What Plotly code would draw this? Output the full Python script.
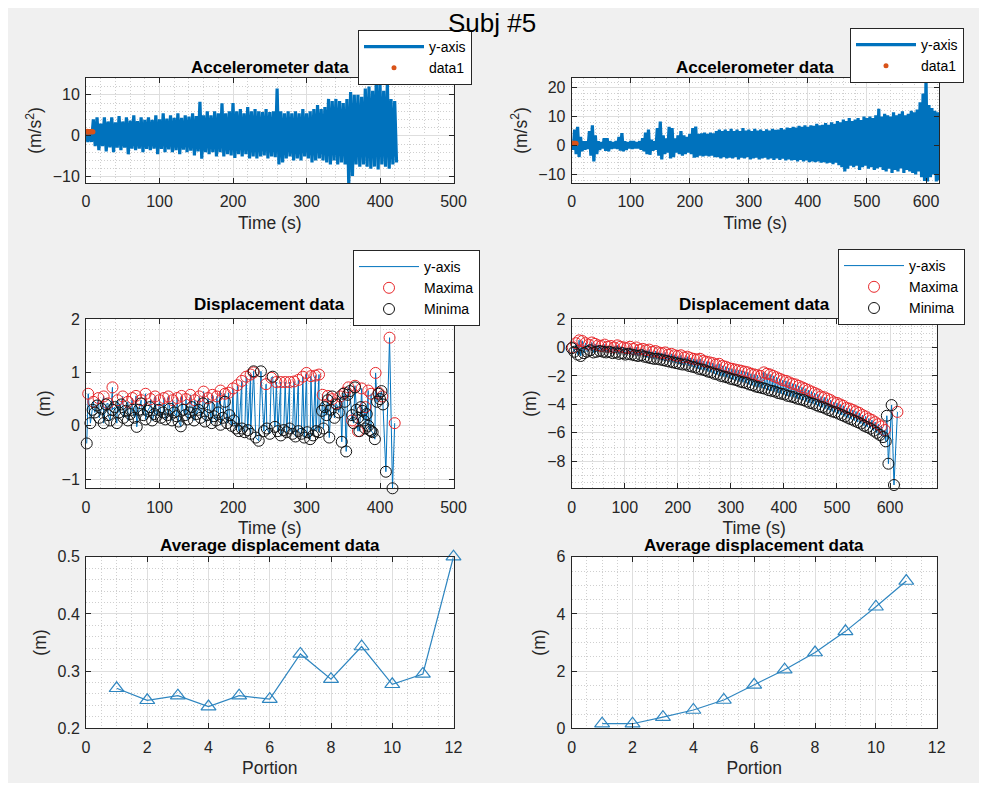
import plotly.graph_objects as go

FONT = "Liberation Sans, Arial, Helvetica, sans-serif"
# the page body keeps its default 8 px margin, so the figure is 16 px smaller than the window
OFF = 8
W, H = 987 - 2 * OFF, 791 - 2 * OFF

# ---------------- data ----------------
# Accelerometer (left run): envelope read per 5 s bin
accL_t = [0, 5, 10, 15, 20, 25, 30, 35, 40, 45,
          50, 55, 60, 65, 70, 75, 80, 85, 90, 95,
          100, 105, 110, 115, 120, 125, 130, 135, 140, 145,
          150, 155, 160, 165, 170, 175, 180, 185, 190, 195,
          200, 205, 210, 215, 220, 225, 230, 235, 240, 245,
          250, 255, 260, 265, 270, 275, 280, 285, 290, 295,
          300, 305, 310, 315, 320, 325, 330, 335, 340, 345,
          350, 355, 360, 365, 370, 375, 380, 385, 390, 395,
          400, 405, 410, 415, 420]
accL_hi = [1.5, 1.5, 4.0, 4.5, 3.0, 4.5, 3.5, 4.5, 3.3, 4.8,
           3.5, 4.5, 3.7, 5.0, 3.6, 4.5, 3.9, 4.5, 3.9, 5.0,
           4.0, 5.5, 4.2, 5.0, 4.4, 5.5, 4.4, 5.0, 4.7, 5.5,
           4.8, 8.3, 5.0, 6.0, 5.0, 6.0, 5.5, 7.9, 5.5, 6.0,
           8.0, 6.0, 6.5, 5.5, 7.0, 6.0, 6.5, 6.0, 5.8, 6.5,
           5.8, 6.0, 11.5, 6.0, 5.5, 6.0, 5.5, 6.0, 5.5, 6.5,
           5.5, 6.0, 6.5, 7.5, 6.5, 7.0, 9.0, 8.5, 9.0, 8.5,
           8.0, 9.0, 10.7, 10.0, 10.0, 9.5, 11.5, 12.0, 11.0, 14.2,
           12.9, 11.0, 12.9, 9.0, 8.5]
accL_lo = [-1.5, -1.5, -2.5, -3.5, -2.5, -3.8, -2.8, -4.0, -2.9, -3.5,
           -2.9, -4.5, -3.1, -3.5, -3.1, -4.0, -3.2, -3.5, -3.1, -4.5,
           -3.2, -4.0, -3.3, -4.0, -3.5, -4.5, -3.4, -4.0, -3.6, -4.8,
           -3.8, -5.6, -4.0, -4.5, -4.0, -5.0, -4.0, -5.0, -4.5, -4.8,
           -5.4, -4.5, -5.0, -4.5, -5.5, -5.0, -5.5, -5.0, -4.8, -5.5,
           -5.0, -5.2, -7.0, -6.5, -5.5, -5.0, -6.0, -5.5, -6.0, -5.0,
           -5.5, -6.5, -6.0, -5.5, -6.0, -6.5, -7.0, -6.0, -7.0, -6.5,
           -7.0, -11.9, -9.8, -7.0, -7.5, -7.0, -7.5, -8.0, -7.5, -8.2,
           -7.0, -7.5, -8.0, -7.0, -6.5]
dotL_t = [0.5, 1.5, 2.5, 3.5, 4.5, 5.5, 6.5, 7.5, 8.5, 9.5]
dotL_v = [1.0, 1.1, 0.9, 1.0, 1.05, 0.95, 1.0, 1.1, 0.95, 1.0]

# Accelerometer (right run)
accR_t = [0, 5, 10, 15, 20, 25, 30, 35, 40, 45,
          50, 55, 60, 65, 70, 75, 80, 85, 90, 95,
          100, 105, 110, 115, 120, 125, 130, 135, 140, 145,
          150, 155, 160, 165, 170, 175, 180, 185, 190, 195,
          200, 205, 210, 215, 220, 225, 230, 235, 240, 245,
          250, 255, 260, 265, 270, 275, 280, 285, 290, 295,
          300, 305, 310, 315, 320, 325, 330, 335, 340, 345,
          350, 355, 360, 365, 370, 375, 380, 385, 390, 395,
          400, 405, 410, 415, 420, 425, 430, 435, 440, 445,
          450, 455, 460, 465, 470, 475, 480, 485, 490, 495,
          500, 505, 510, 515, 520, 525, 530, 535, 540, 545,
          550, 555, 560, 565, 570, 575, 580, 585, 590, 595,
          600, 605, 610, 615, 620]
accR_hi = [1.5, 5.5, 6.5, 3.0, 1.5, 1.5, 5.0, 7.0, 3.5, 1.5,
           1.2, 2.5, 2.5, 1.5, 1.2, 1.5, 3.0, 4.3, 1.5, 1.2,
           1.5, 1.5, 1.2, 1.5, 2.5, 4.5, 5.5, 2.0, 1.5, 6.0,
           8.3, 3.5, 2.5, 6.5, 6.0, 2.5, 3.5, 5.0, 3.5, 3.0,
           4.0, 6.0, 6.6, 4.0, 4.2, 4.5, 4.0, 4.5, 4.2, 5.0,
           5.5, 5.0, 5.5, 5.0, 5.8, 5.0, 5.5, 5.0, 6.0, 5.2,
           5.5, 5.0, 5.8, 5.2, 5.5, 5.0, 5.6, 5.2, 5.8, 5.4,
           5.5, 6.0, 5.5, 6.2, 6.0, 6.5, 6.2, 6.8, 6.5, 7.0,
           6.5, 7.0, 6.8, 7.5, 7.0, 7.2, 7.8, 7.2, 8.0, 7.5,
           8.5, 8.0, 9.0, 8.5, 9.5, 8.5, 9.0, 9.5, 8.8, 10.0,
           9.5, 10.0, 9.5, 10.5, 12.7, 10.0, 11.0, 10.5, 10.0, 11.5,
           10.5, 11.0, 11.9, 10.5, 11.0, 12.0, 11.5, 12.5, 15.0, 18.0,
           23.4, 14.0, 13.0, 12.0, 11.5]
accR_lo = [-1.5, -3.0, -4.0, -2.0, -1.5, -1.2, -3.5, -5.5, -3.0, -1.5,
           -1.0, -1.8, -2.0, -1.2, -1.0, -1.2, -1.8, -2.0, -1.5, -1.0,
           -1.2, -1.0, -1.0, -1.5, -2.0, -3.0, -3.2, -1.8, -1.5, -3.5,
           -4.8, -3.0, -2.5, -4.5, -4.0, -2.5, -3.0, -3.5, -3.0, -2.5,
           -3.0, -4.2, -4.0, -3.5, -3.8, -3.5, -3.8, -3.5, -4.0, -4.0,
           -4.5, -4.0, -4.5, -4.2, -4.5, -4.0, -4.8, -4.2, -4.5, -4.0,
           -4.8, -4.5, -4.2, -4.8, -4.5, -4.2, -4.8, -4.5, -5.0, -4.5,
           -5.0, -4.6, -5.2, -4.8, -5.2, -5.0, -5.5, -5.0, -5.5, -5.2,
           -5.8, -5.5, -5.8, -5.5, -6.0, -5.8, -6.2, -6.0, -6.5, -6.0,
           -6.8, -7.5, -9.0, -8.0, -7.0, -7.5, -7.0, -8.5, -7.5, -7.0,
           -8.0, -7.5, -8.5, -8.0, -7.5, -8.5, -9.0, -8.0, -9.5, -8.5,
           -9.0, -8.0, -9.5, -8.5, -9.0, -9.5, -10.0, -9.0, -11.0, -12.3,
           -12.5, -11.0, -10.0, -12.5, -12.0]
dotR_t = [0.5, 1.5, 2.5, 3.5, 4.5, 5.5, 6.5, 7.5]
dotR_v = [0.8, 0.7, 0.75, 0.8, 0.7, 0.75, 0.8, 0.7]

# Displacement (left) extrema
maxL_t = [3, 10, 17, 24, 30, 36, 43, 50, 57, 63,
          68, 75, 81, 88, 94, 100, 106, 112, 118, 124,
          130, 136, 142, 148, 154, 160, 166, 172, 178, 183,
          189, 194, 200, 206, 212, 218, 224, 228, 245, 252,
          259, 265, 271, 277, 283, 289, 295, 300, 306, 312,
          317, 322, 329, 335, 340, 346, 352, 357, 362, 366,
          370, 375, 380, 384, 388, 394, 398, 403, 413, 420]
maxL_v = [0.60, 0.45, 0.52, 0.55, 0.42, 0.72, 0.48, 0.55, 0.45, 0.52,
          0.56, 0.48, 0.60, 0.50, 0.55, 0.48, 0.52, 0.55, 0.48, 0.52,
          0.56, 0.50, 0.58, 0.48, 0.55, 0.64, 0.52, 0.58, 0.55, 0.66,
          0.60, 0.62, 0.70, 0.76, 0.84, 0.92, 0.96, 1.00, 0.78, 0.90,
          0.82, 0.82, 0.82, 0.82, 0.83, 0.86, 0.92, 0.99, 0.93, 0.94,
          0.96, 0.58, 0.56, 0.50, 0.42, 0.55, 0.62, 0.72, 0.10, 0.75,
          -0.10, 0.70, 0.35, 0.66, 0.60, 0.99, 0.62, 0.55, 1.65, 0.05]
minL_t = [1, 6, 9, 12, 15, 18, 21, 24, 27, 30,
          33, 36, 39, 42, 45, 48, 51, 54, 57, 60,
          63, 66, 69, 72, 75, 78, 81, 84, 87, 90,
          93, 96, 99, 102, 105, 108, 111, 114, 117, 120,
          123, 126, 129, 132, 135, 138, 141, 144, 147, 150,
          153, 156, 159, 162, 165, 168, 171, 174, 177, 180,
          183, 186, 189, 192, 195, 198, 201, 204, 208, 212,
          216, 220, 224, 228, 231, 235, 238, 242, 246, 250,
          254, 257, 261, 265, 269, 273, 277, 281, 285, 289,
          293, 297, 301, 305, 309, 313, 317, 321, 323, 325,
          327, 329, 331, 333, 335, 338, 341, 344, 348, 350,
          352, 354, 356, 359, 362, 364, 366, 368, 370, 372,
          374, 376, 378, 380, 382, 384, 386, 388, 390, 393,
          396, 398, 400, 402, 404, 408, 417]
minL_v = [-0.33, 0.05, 0.30, 0.25, 0.38, 0.15, 0.32, 0.05, 0.40, 0.20,
          0.10, 0.30, 0.35, 0.05, 0.25, 0.40, 0.15, 0.28, 0.10, 0.22,
          0.30, 0.15, -0.02, 0.30, 0.42, 0.20, 0.12, 0.28, 0.35, 0.10,
          0.22, 0.18, 0.30, 0.15, 0.25, 0.12, 0.20, 0.32, 0.10, 0.25,
          0.18, 0.08, -0.01, 0.30, 0.20, 0.12, 0.25, 0.35, 0.10, 0.22,
          0.30, 0.15, 0.42, 0.08, 0.20, 0.35, 0.05, 0.18, 0.10, 0.25,
          0.02, 0.15, 0.45, 0.05, 0.20, 0.00, 0.10, -0.05, -0.10, -0.05,
          -0.12, -0.08, -0.15, 1.02, -0.22, -0.28, 1.02, -0.10, -0.05, -0.15,
          0.92, -0.02, -0.10, -0.18, -0.08, -0.12, -0.05, -0.15, -0.20, -0.10,
          -0.15, -0.22, -0.12, -0.25, -0.18, -0.10, -0.12, 0.28, -0.05, 0.35,
          0.20, 0.48, -0.22, 0.30, 0.55, 0.15, 0.40, 0.25, -0.30, 0.60,
          0.45, -0.48, 0.58, 0.65, 0.20, 0.05, 0.72, 0.30, 0.15, -0.10,
          0.35, 0.28, 0.10, -0.05, 0.22, 0.00, -0.08, -0.10, -0.12, -0.25,
          0.45, 0.60, 0.50, 0.65, 0.40, -0.86, -1.17]

# Displacement (right) extrema
maxR_t = [2, 8, 14, 20, 26, 32, 38, 44, 50, 56,
          62, 68, 74, 80, 86, 92, 98, 104, 110, 116,
          122, 128, 134, 140, 146, 152, 158, 164, 170, 176,
          182, 188, 194, 200, 206, 212, 218, 224, 230, 236,
          242, 248, 254, 260, 266, 272, 278, 284, 290, 296,
          302, 308, 314, 320, 326, 332, 338, 344, 350, 356,
          362, 368, 374, 380, 386, 392, 398, 404, 410, 416,
          422, 428, 434, 440, 446, 452, 458, 464, 470, 476,
          482, 488, 494, 500, 506, 512, 518, 524, 530, 536,
          542, 548, 554, 560, 566, 572, 578, 584, 590, 614]
maxR_v = [0.0, 0.3, 0.5, 0.45, 0.3, 0.2, 0.35, 0.25, 0.15, 0.1,
          0.2, 0.05, 0.1, 0.0, 0.15, 0.05, 0.0, -0.05, 0.05, -0.1,
          0.0, -0.15, -0.1, -0.2, -0.15, -0.3, -0.25, -0.35, -0.4, -0.35,
          -0.5, -0.45, -0.55, -0.6, -0.55, -0.7, -0.65, -0.75, -0.8, -0.85,
          -0.8, -0.95, -1.0, -1.05, -1.1, -1.2, -1.15, -1.3, -1.35, -1.45,
          -1.5, -1.55, -1.6, -1.65, -1.7, -1.75, -1.85, -1.9, -1.95, -2.0,
          -1.75, -1.85, -1.9, -2.0, -2.1, -2.2, -2.3, -2.35, -2.45, -2.55,
          -2.6, -2.7, -2.8, -2.9, -3.0, -3.1, -3.2, -3.3, -3.45, -3.5,
          -3.6, -3.7, -3.85, -3.9, -4.0, -4.1, -4.25, -4.3, -4.4, -4.5,
          -4.6, -4.75, -4.85, -5.0, -5.1, -5.25, -5.4, -5.55, -5.8, -4.53]
minR_t = [0, 5, 11, 17, 23, 29, 35, 41, 47, 53,
          59, 65, 71, 77, 83, 89, 95, 101, 107, 113,
          119, 125, 131, 137, 143, 149, 155, 161, 167, 173,
          179, 185, 191, 197, 203, 209, 215, 221, 227, 233,
          239, 245, 251, 257, 263, 269, 275, 281, 287, 293,
          299, 305, 311, 317, 323, 329, 335, 341, 347, 353,
          359, 365, 371, 377, 383, 389, 395, 401, 407, 413,
          419, 425, 431, 437, 443, 449, 455, 461, 467, 473,
          479, 485, 491, 497, 503, 509, 515, 521, 527, 533,
          539, 545, 551, 557, 563, 569, 575, 581, 587, 592,
          594, 597, 603, 607.5]
minR_v = [-0.05, -0.3, -0.5, -0.6, -0.4, -0.3, -0.2, -0.35, -0.3, -0.25,
          -0.3, -0.35, -0.3, -0.4, -0.35, -0.45, -0.4, -0.5, -0.45, -0.5,
          -0.55, -0.6, -0.55, -0.65, -0.7, -0.75, -0.8, -0.8, -0.85, -0.9,
          -0.95, -1.0, -1.05, -1.1, -1.15, -1.2, -1.2, -1.3, -1.35, -1.4,
          -1.5, -1.55, -1.6, -1.7, -1.75, -1.85, -1.9, -2.0, -2.05, -2.1,
          -2.2, -2.25, -2.3, -2.4, -2.45, -2.5, -2.6, -2.65, -2.75, -2.8,
          -2.85, -2.9, -3.0, -3.05, -3.1, -3.2, -3.25, -3.3, -3.4, -3.45,
          -3.5, -3.6, -3.65, -3.7, -3.8, -3.9, -3.95, -4.05, -4.15, -4.2,
          -4.3, -4.4, -4.5, -4.55, -4.65, -4.75, -4.85, -4.95, -5.05, -5.15,
          -5.25, -5.35, -5.5, -5.6, -5.7, -5.85, -6.0, -6.15, -6.3, -6.6,
          -4.8, -8.17, -4.05, -9.67]

# Average displacement per portion
portL = [1, 2, 3, 4, 5, 6, 7, 8, 9, 10, 11, 12]
avgL = [0.270, 0.249, 0.257, 0.238, 0.257, 0.251, 0.330, 0.286, 0.343, 0.277, 0.295, 0.500]
portR = [1, 2, 3, 4, 5, 6, 7, 8, 9, 10, 11]
avgR = [0.16, 0.16, 0.39, 0.64, 0.99, 1.52, 2.05, 2.65, 3.39, 4.25, 5.15]

# ---------------- helpers ----------------
BLUE = "#0072BD"
ORANGE = "#D95319"
TXT = "#262626"


def zigzag(t, hi, lo, half):
    xs, ys = [], []
    for a, h, l in zip(t, hi, lo):
        xs += [a, a + half]
        ys += [h, l]
    return xs, ys


def merged(t1, v1, t2, v2):
    pts = sorted(list(zip(t1, v1)) + list(zip(t2, v2)), key=lambda p: p[0])
    return [p[0] for p in pts], [p[1] for p in pts]


def fx(px):  # window pixel -> paper fraction
    return (px - OFF) / W


def fy(py):
    return 1 - (py - OFF) / H


fig = go.Figure()

# --- top-left ---
x, y = zigzag(accL_t, accL_hi, accL_lo, 2.5)
fig.add_trace(go.Scatter(x=x, y=y, mode="lines", name="y-axis",
                         line=dict(color=BLUE, width=3.2), xaxis="x", yaxis="y", legend="legend"))
fig.add_trace(go.Scatter(x=dotL_t, y=dotL_v, mode="markers", name="data1",
                         marker=dict(color=ORANGE, size=5), xaxis="x", yaxis="y", legend="legend"))
# --- top-right ---
x, y = zigzag(accR_t, accR_hi, accR_lo, 2.5)
fig.add_trace(go.Scatter(x=x, y=y, mode="lines", name="y-axis",
                         line=dict(color=BLUE, width=3.2), xaxis="x2", yaxis="y2", legend="legend2"))
fig.add_trace(go.Scatter(x=dotR_t, y=dotR_v, mode="markers", name="data1",
                         marker=dict(color=ORANGE, size=5), xaxis="x2", yaxis="y2", legend="legend2"))
# --- middle-left ---
x, y = merged(maxL_t, maxL_v, minL_t, minL_v)
fig.add_trace(go.Scatter(x=x, y=y, mode="lines", name="y-axis",
                         line=dict(color=BLUE, width=1), xaxis="x3", yaxis="y3", legend="legend3"))
fig.add_trace(go.Scatter(x=maxL_t, y=maxL_v, mode="markers", name="Maxima", cliponaxis=False,
                         marker=dict(symbol="circle-open", size=11, color="#e8282b", line=dict(width=1)),
                         xaxis="x3", yaxis="y3", legend="legend3"))
fig.add_trace(go.Scatter(x=minL_t, y=minL_v, mode="markers", name="Minima", cliponaxis=False,
                         marker=dict(symbol="circle-open", size=11, color="#111111", line=dict(width=1)),
                         xaxis="x3", yaxis="y3", legend="legend3"))
# --- middle-right ---
x, y = merged(maxR_t, maxR_v, minR_t, minR_v)
fig.add_trace(go.Scatter(x=x, y=y, mode="lines", name="y-axis",
                         line=dict(color=BLUE, width=1), xaxis="x4", yaxis="y4", legend="legend4"))
fig.add_trace(go.Scatter(x=maxR_t, y=maxR_v, mode="markers", name="Maxima", cliponaxis=False,
                         marker=dict(symbol="circle-open", size=11, color="#e8282b", line=dict(width=1)),
                         xaxis="x4", yaxis="y4", legend="legend4"))
fig.add_trace(go.Scatter(x=minR_t, y=minR_v, mode="markers", name="Minima", cliponaxis=False,
                         marker=dict(symbol="circle-open", size=11, color="#111111", line=dict(width=1)),
                         xaxis="x4", yaxis="y4", legend="legend4"))
# --- bottom ---
fig.add_trace(go.Scatter(x=portL, y=avgL, mode="lines+markers", showlegend=False, cliponaxis=False,
                         line=dict(color="#2f86c0", width=1.2),
                         marker=dict(symbol="triangle-up-open", size=13, color="#2f86c0", line=dict(width=1.2)),
                         xaxis="x5", yaxis="y5"))
fig.add_trace(go.Scatter(x=portR, y=avgR, mode="lines+markers", showlegend=False, cliponaxis=False,
                         line=dict(color="#2f86c0", width=1.2),
                         marker=dict(symbol="triangle-up-open", size=13, color="#2f86c0", line=dict(width=1.2)),
                         xaxis="x6", yaxis="y6"))


def axis(domain, rng, dtick, minor, anchor, title, is_x):
    return dict(domain=domain, range=rng, dtick=dtick, tick0=0, anchor=anchor,
                automargin=False,
                showline=True, linecolor=TXT, linewidth=1, mirror="ticks",
                ticks="inside", ticklen=5, tickcolor=TXT, tickwidth=1,
                ticklabelstandoff=4 if is_x else 2,
                showgrid=True, gridcolor="#dedede", gridwidth=1, zeroline=False,
                minor=dict(dtick=minor, tick0=0, showgrid=True, gridcolor="#cfcfcf",
                           griddash="1px,2px", ticks=""),
                tickfont=dict(size=16, color=TXT, family=FONT),
                title=dict(text=title, font=dict(size=17.5, color=TXT, family=FONT),
                           standoff=7 if is_x else 6),
                fixedrange=True)


XL = [fx(86), fx(453.5)]
XR = [fx(571.7), fx(939)]
XR2 = [fx(571.7), fx(936.7)]
Y1 = [fy(183), fy(78)]
Y2 = [fy(488.3), fy(319)]
Y3 = [fy(728.3), fy(556.7)]

lay = dict(
    xaxis=axis(XL, [0, 500], 100, 20, "y", "Time (s)", True),
    yaxis=axis(Y1, [-11.5, 14.1], 10, 2, "x", "(m/s<sup>2</sup>)", False),
    xaxis2=axis(XR, [0, 622], 100, 20, "y2", "Time (s)", True),
    yaxis2=axis(Y1, [-13, 23.4], 10, 2, "x2", "(m/s<sup>2</sup>)", False),
    xaxis3=axis(XL, [0, 500], 100, 20, "y3", "Time (s)", True),
    yaxis3=axis(Y2, [-1.17, 2], 1, 0.2, "x3", "(m)", False),
    xaxis4=axis(XR2, [0, 688], 100, 20, "y4", "Time (s)", True),
    yaxis4=axis(Y2, [-9.9, 2], 2, 0.5, "x4", "(m)", False),
    xaxis5=axis(XL, [0, 12], 2, 0.5, "y5", "Portion", True),
    yaxis5=axis(Y3, [0.2, 0.5], 0.1, 0.02, "x5", "(m)", False),
    xaxis6=axis(XR2, [0, 12], 2, 0.5, "y6", "Portion", True),
    yaxis6=axis(Y3, [0, 6], 2, 0.5, "x6", "(m)", False),
)
fig.update_layout(**lay)

leg_common = dict(xanchor="left", yanchor="top", bgcolor="white", bordercolor=TXT,
                  borderwidth=1, font=dict(size=14, family=FONT, color="#000"),
                  itemwidth=60, tracegroupgap=0)
fig.update_layout(
    legend=dict(x=fx(358), y=fy(30), **leg_common),
    legend2=dict(x=fx(850), y=fy(28), **leg_common),
    legend3=dict(x=fx(353), y=fy(250), **leg_common),
    legend4=dict(x=fx(838), y=fy(249), **leg_common),
)

titles = [
    ("Accelerometer data", (86 + 453.5) / 2, 68),
    ("Accelerometer data", (571.7 + 939) / 2, 68),
    ("Displacement data", (86 + 453.5) / 2, 304),
    ("Displacement data", (571.7 + 936.7) / 2, 304),
    ("Average displacement data", (86 + 453.5) / 2, 545),
    ("Average displacement data", (571.7 + 936.7) / 2, 545),
]
annotations = [dict(text="<b>%s</b>" % t, x=fx(px), y=fy(py), xref="paper", yref="paper",
                    xanchor="center", yanchor="middle", showarrow=False,
                    font=dict(size=17, color="#000", family=FONT)) for t, px, py in titles]
annotations.append(dict(text="Subj #5", x=fx(492), y=fy(23), xref="paper", yref="paper",
                        xanchor="center", yanchor="middle", showarrow=False,
                        font=dict(size=26, color="#000", family=FONT)))

fig.update_layout(
    width=W, height=H, margin=dict(l=0, r=0, t=0, b=0, autoexpand=False),
    paper_bgcolor="#f0f0f0", plot_bgcolor="white",
    font=dict(family=FONT, color=TXT),
    annotations=annotations,
    hovermode=False,
)

fig.write_html("out.html", config={"displayModeBar": False})
